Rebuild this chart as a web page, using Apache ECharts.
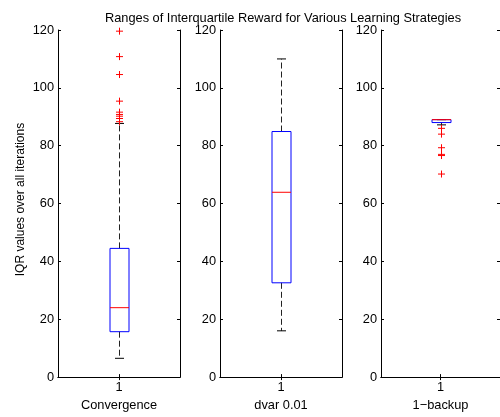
<!DOCTYPE html>
<html>
<head>
<meta charset="utf-8">
<script src="https://cdn.jsdelivr.net/npm/echarts@6/dist/echarts.min.js"></script>
<style>html,body{margin:0;padding:0;background:#fff}#c{width:500px;height:417px}</style>
</head>
<body>
<div id="c"></div>
<script>
const categories = ['Convergence', 'dvar 0.01', '1\u2212backup'];
const xTickLabels = ['1'];
const whiskerLow = [6.5, 16.0, 87.2];
const q1 = [15.7, 32.6, 88.0];
const median = [24.0, 63.9, 89.0];
const q3 = [44.5, 84.9, 89.0];
const whiskerHigh = [87.7, 110.0, 89.0];
const outliers = [
  [119.6, 110.8, 104.6, 95.4, 91.6, 90.8, 90.2, 89.4, 88.3],
  [],
  [86.0, 84.0, 79.3, 77.0, 76.6, 70.2]
];
const yMin = 0, yMax = 120, yInterval = 20;
const titleText = 'Ranges of Interquartile Reward for Various Learning Strategies';
const yAxisName = 'IQR values over all iterations';

const FONT = '"Liberation Sans", Arial, Helvetica, sans-serif';
const FS = 12.8;
const gridLefts = [58, 220, 381];
const grids = [], xAxes = [], yAxes = [], series = [];

categories.forEach((cat, i) => {
  grids.push({left: gridLefts[i], top: 30, width: 122, height: 352, containLabel: false});
  const tick = {show: true, inside: true, length: 3, alignWithLabel: true, lineStyle: {color: '#000', width: 1}};
  const line = {show: true, lineStyle: {color: '#000', width: 1}};
  xAxes.push({
    type: 'category', gridIndex: i, data: xTickLabels, position: 'bottom',
    axisTick: tick, axisLine: line,
    axisLabel: {color: '#000', fontSize: FS, fontFamily: FONT, margin: 4},
    name: cat, nameLocation: 'middle', nameGap: 15,
    nameTextStyle: {color: '#000', fontSize: FS, fontFamily: FONT},
    splitLine: {show: false}
  });
  xAxes.push({
    type: 'category', gridIndex: i, data: xTickLabels, position: 'top',
    axisTick: tick, axisLine: line, axisLabel: {show: false}, splitLine: {show: false}
  });
  const ytick = {show: true, inside: true, length: 3, lineStyle: {color: '#000', width: 1}};
  const yLeft = {
    type: 'value', gridIndex: i, min: yMin, max: yMax, interval: yInterval, position: 'left',
    axisTick: ytick, axisLine: line,
    axisLabel: {color: '#000', fontSize: FS, fontFamily: FONT, margin: 4},
    splitLine: {show: false}
  };
  if (i === 0) {
    yLeft.name = yAxisName;
    yLeft.nameLocation = 'middle';
    yLeft.nameGap = 31;
    yLeft.nameTextStyle = {color: '#000', fontSize: 12, fontFamily: FONT, padding: [0, 0, 0, 8]};
  }
  yAxes.push(yLeft);
  yAxes.push({
    type: 'value', gridIndex: i, min: yMin, max: yMax, interval: yInterval, position: 'right',
    axisTick: ytick, axisLine: line, axisLabel: {show: false}, splitLine: {show: false}
  });

  series.push({
    type: 'custom', xAxisIndex: i * 2, yAxisIndex: i * 2,
    data: [[0, whiskerLow[i], q1[i], median[i], q3[i], whiskerHigh[i]]],
    renderItem: function (params, api) {
      const pLo = api.coord([0, api.value(1)]);
      const pQ1 = api.coord([0, api.value(2)]);
      const pMed = api.coord([0, api.value(3)]);
      const pQ3 = api.coord([0, api.value(4)]);
      const pHi = api.coord([0, api.value(5)]);
      const x = Math.round(pLo[0]) + 0.5;
      const hw = 9.5, cw = 4.5;
      const dash = {stroke: '#222', lineWidth: 1, lineDash: [6, 3], fill: null};
      const solid = {stroke: '#000', lineWidth: 1, fill: null};
      return {type: 'group', children: [
        {type: 'line', shape: {x1: x, y1: pQ3[1], x2: x, y2: pHi[1]}, style: dash},
        {type: 'line', shape: {x1: x, y1: pQ1[1], x2: x, y2: pLo[1]}, style: dash},
        {type: 'line', shape: {x1: x - cw, y1: pHi[1], x2: x + cw, y2: pHi[1]}, style: solid},
        {type: 'line', shape: {x1: x - cw, y1: pLo[1], x2: x + cw, y2: pLo[1]}, style: solid},
        {type: 'rect', shape: {x: x - hw, y: pQ3[1], width: hw * 2, height: pQ1[1] - pQ3[1]},
          style: {stroke: '#0000ff', lineWidth: 1, fill: null}},
        {type: 'line', shape: {x1: x - hw, y1: pMed[1], x2: x + hw, y2: pMed[1]},
          style: {stroke: '#ff0000', lineWidth: 1}}
      ]};
    },
    silent: true, animation: false
  });

  series.push({
    type: 'custom', xAxisIndex: i * 2, yAxisIndex: i * 2,
    data: outliers[i].map(v => [0, v]),
    renderItem: function (params, api) {
      const p = api.coord([0, api.value(1)]);
      const x = Math.round(p[0]) + 0.5, y = p[1], s = 3.5;
      const st = {stroke: '#ff0000', lineWidth: 1};
      return {type: 'group', children: [
        {type: 'line', shape: {x1: x - s, y1: y, x2: x + s, y2: y}, style: st},
        {type: 'line', shape: {x1: x, y1: y - s, x2: x, y2: y + s}, style: st}
      ]};
    },
    silent: true, animation: false
  });
});

const chart = echarts.init(document.getElementById('c'), null, {renderer: 'canvas'});
chart.setOption({
  animation: false,
  backgroundColor: '#fff',
  title: {text: titleText, left: 278, top: 7, textAlign: 'center',
    textStyle: {color: '#000', fontSize: FS, fontWeight: 'normal', fontFamily: FONT}},
  grid: grids, xAxis: xAxes, yAxis: yAxes, series: series
});
</script>
</body>
</html>
